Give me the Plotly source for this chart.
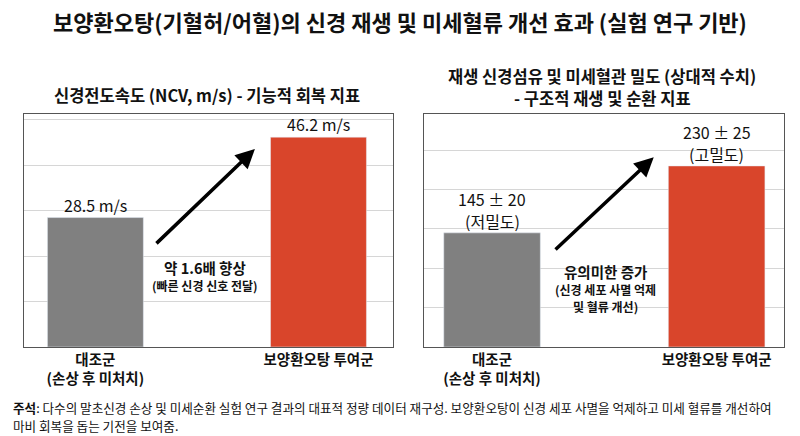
import plotly.graph_objects as go

# data
groups = ['<b>대조군<br>(손상 후 미처치)</b>', '<b>보양환오탕 투여군</b>']
ncv_values = [28.5, 46.2]
ncv_labels = ['28.5 m/s', '46.2 m/s']
density_values = [145, 230]
density_labels = ['145 ± 20', '230 ± 25']
density_notes = ['(저밀도)', '(고밀도)']
bar_colors = ['#808080', '#d9452b']

FONT = 'Noto Sans CJK KR'
x_idx = [0, 1]

fig = go.Figure()
fig.add_trace(go.Bar(x=x_idx, y=ncv_values, marker_color=bar_colors, width=0.43,
                     xaxis='x', yaxis='y', hoverinfo='skip'))
fig.add_trace(go.Bar(x=x_idx, y=density_values, marker_color=bar_colors, width=0.43,
                     xaxis='x2', yaxis='y2', hoverinfo='skip'))

annotations = []


def bar_label(x, y, xref, yref, text, shift):
    return dict(x=x, y=y, xref=xref, yref=yref, text=text, showarrow=False,
                xanchor='center', yanchor='bottom', yshift=shift, borderpad=0,
                font=dict(size=16, color='#111'))


# value labels on top of the bars
for i, (v, t) in enumerate(zip(ncv_values, ncv_labels)):
    annotations.append(bar_label(i, v, 'x', 'y', t, 0))
for i, (v, t, n) in enumerate(zip(density_values, density_labels, density_notes)):
    annotations.append(bar_label(i, v, 'x2', 'y2', n, -1))
    annotations.append(bar_label(i, v, 'x2', 'y2', t, 21))

# arrows between bars
annotations.append(dict(x=0.715, y=43.6, ax=0.267, ay=22.5, xref='x', yref='y', axref='x', ayref='y',
                        showarrow=True, arrowhead=2, arrowsize=1.1, arrowwidth=3.5, arrowcolor='#000',
                        text=''))
annotations.append(dict(x=0.72, y=241, ax=0.276, ay=122, xref='x2', yref='y2', axref='x2', ayref='y2',
                        showarrow=True, arrowhead=2, arrowsize=1.1, arrowwidth=3.5, arrowcolor='#000',
                        text=''))

# (text, x px, y px, size, anchor)
texts = [
    ('<b>약 1.6배 향상</b>', 205, 267, 14.5, 'center'),
    ('<b>(빠른 신경 신호 전달)</b>', 205, 285, 12, 'center'),
    ('<b>유의미한 증가</b>', 605, 271, 14.5, 'center'),
    ('<b>(신경 세포 사멸 억제</b>', 605, 289, 12, 'center'),
    ('<b>및 혈류 개선)</b>', 605, 306, 12, 'center'),
    ('<b>보양환오탕(기혈허/어혈)의 신경 재생 및 미세혈류 개선 효과 (실험 연구 기반)</b>', 400, 21, 22, 'center'),
    ('<b>신경전도속도 (NCV, m/s) - 기능적 회복 지표</b>', 207, 95, 16.5, 'center'),
    ('<b>재생 신경섬유 및 미세혈관 밀도 (상대적 수치)</b>', 602, 76, 16.5, 'center'),
    ('<b>- 구조적 재생 및 순환 지표</b>', 602, 98, 16.5, 'center'),
    ('<b>주석</b>: 다수의 말초신경 손상 및 미세순환 실험 연구 결과의 대표적 정량 데이터 재구성. '
     '보양환오탕이 신경 세포 사멸을 억제하고 미세 혈류를 개선하여', 12, 407, 12.6, 'left'),
    ('마비 회복을 돕는 기전을 보여줌.', 12, 425, 12.6, 'left'),
]

W, H = 800, 436
for t, x, y, s, anc in texts:
    annotations.append(dict(x=x / W, y=1 - y / H, xref='paper', yref='paper', text=t,
                            xanchor=anc, yanchor='middle', align=anc, showarrow=False,
                            borderpad=0, font=dict(size=s, color='#111')))

axis_common = dict(showline=True, linecolor='#555', linewidth=1, mirror=True)
fig.update_layout(
    width=W, height=H,
    margin=dict(l=0, r=0, t=0, b=0),
    paper_bgcolor='white', plot_bgcolor='white',
    showlegend=False,
    font=dict(family=FONT, color='#111'),
    annotations=annotations,
    xaxis=dict(domain=[24 / W, 393 / W], range=[-0.32, 1.334], tickvals=x_idx, ticktext=groups,
               tickfont=dict(size=14.5), ticks='', **axis_common),
    yaxis=dict(domain=[1 - 347 / H, 1 - 114 / H], range=[0, 51.3], dtick=10, showticklabels=False,
               gridcolor='#d6d6d6', zeroline=False, **axis_common),
    xaxis2=dict(domain=[424 / W, 784 / W], range=[-0.303, 1.30], tickvals=x_idx, ticktext=groups,
                tickfont=dict(size=14.5), ticks='', **axis_common),
    yaxis2=dict(domain=[1 - 347 / H, 1 - 114 / H], range=[0, 296], dtick=50, showticklabels=False,
                gridcolor='#d6d6d6', zeroline=False, anchor='x2', **axis_common),
)
# the page body has a default 8px margin; drop it so the figure sits at the window corner
fig.write_html('out.html', config={'displayModeBar': False},
               post_script="document.body.style.margin='0';")
